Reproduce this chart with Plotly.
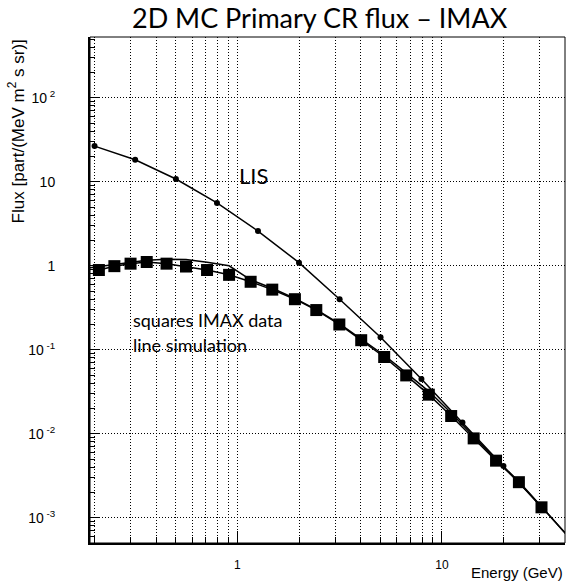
import plotly.graph_objects as go
import math

# ---- data ----
lis_energy = [0.2, 0.316, 0.5, 0.794, 1.26, 2.0, 3.16, 5.01, 7.94, 12.6, 20.0, 31.6, 50.1]
lis_flux = [26.6, 18.3, 10.8, 5.6, 2.59, 1.09, 0.40, 0.141, 0.0448, 0.0136, 0.00412, 0.00125, 0.00036]

imax_energy = [0.21, 0.25, 0.30, 0.36, 0.45, 0.56, 0.71, 0.91, 1.16, 1.48, 1.91, 2.43,
               3.15, 4.03, 5.22, 6.69, 8.63, 11.1, 14.3, 18.4, 23.8, 30.7]
imax_flux = [0.89, 0.99, 1.06, 1.11, 1.06, 0.98, 0.89, 0.78, 0.645, 0.52, 0.40, 0.297,
             0.20, 0.13, 0.082, 0.0495, 0.0292, 0.01625, 0.0088, 0.00478, 0.00265, 0.00133]

sim_energy = [0.19, 0.25, 0.30, 0.36, 0.45, 0.56, 0.71, 0.91, 1.16, 1.48, 1.91, 2.43,
              3.15, 4.03, 5.22, 6.69, 8.63, 11.1, 14.3, 18.4, 23.8, 30.7, 45.0]
sim_flux = [0.95, 1.03, 1.10, 1.16, 1.20, 1.19, 1.10, 1.00, 0.68, 0.54, 0.41, 0.30,
            0.205, 0.134, 0.086, 0.053, 0.032, 0.0177, 0.0093, 0.0049, 0.0027, 0.00135, 0.00048]

x_major = [1, 10]
x_major_text = ["1", "10"]
x_minor = [0.2, 0.3, 0.4, 0.5, 0.6, 0.7, 0.8, 0.9, 2, 3, 4, 5, 6, 7, 8, 9, 20, 30, 40]
y_major = [1e-3, 1e-2, 1e-1, 1, 10, 100]
y_major_text = ["10<sup> -3</sup>", "10<sup> -2</sup>", "10<sup> -1</sup>", "1", "10", "10<sup> 2</sup>"]
y_minor = [m * 10 ** e for e in range(-4, 3) for m in range(2, 10)]

title_text = "2D MC Primary CR flux – IMAX"

fig = go.Figure()
fig.add_trace(go.Scatter(x=sim_energy, y=sim_flux, mode="lines",
                         line=dict(color="black", width=1.5), showlegend=False))
fig.add_trace(go.Scatter(x=imax_energy, y=imax_flux, mode="lines+markers",
                         line=dict(color="black", width=1.5),
                         marker=dict(symbol="square", size=12, color="black"),
                         showlegend=False))
fig.add_trace(go.Scatter(x=lis_energy, y=lis_flux, mode="lines+markers",
                         line=dict(color="black", width=1.5),
                         marker=dict(symbol="circle", size=6, color="black"),
                         showlegend=False))

dash = "1px,2px"

fig.update_xaxes(type="log", range=[math.log10(0.19), math.log10(40)],
                 tickmode="array", tickvals=x_major, ticktext=x_major_text,
                 ticks="inside", ticklen=12, tickcolor="black", tickwidth=1,
                 showline=True, linecolor="black", linewidth=2, mirror=False,
                 zeroline=False, ticklabelstandoff=10,
                 showgrid=True, gridcolor="black", gridwidth=1, griddash=dash,
                 tickfont=dict(family="Liberation Sans", size=12, color="black"),
                 minor=dict(tickmode="array", tickvals=x_minor, ticks="inside", ticklen=6,
                            tickcolor="black", showgrid=True, gridcolor="black",
                            gridwidth=1, griddash=dash))
fig.update_yaxes(type="log", range=[math.log10(5e-4), math.log10(530)],
                 tickmode="array", tickvals=y_major, ticktext=y_major_text,
                 ticks="inside", ticklen=10, tickcolor="black", tickwidth=1,
                 showline=True, linecolor="black", linewidth=2, mirror=False,
                 zeroline=False, ticklabelstandoff=30,
                 showgrid=True, gridcolor="black", gridwidth=1, griddash=dash,
                 tickfont=dict(family="Liberation Sans", size=14, color="black"),
                 minor=dict(tickmode="array", tickvals=y_minor, ticks="inside", ticklen=5,
                            tickcolor="black", showgrid=False))

fig.add_shape(type="rect", xref="paper", yref="paper", x0=0, x1=1, y0=0, y1=1,
              line=dict(color="black", width=1), layer="above")

fig.add_annotation(text=title_text, xref="paper", yref="paper", x=0.485, y=1.0,
                   yshift=38, xanchor="center", yanchor="top", showarrow=False,
                   font=dict(family="Lato", size=27, color="black"))
fig.add_annotation(text="LIS", xref="x", yref="y", x=math.log10(0.99), y=1.07,
                   xanchor="left", yanchor="middle", showarrow=False,
                   font=dict(family="Lato", size=22, color="black"))
fig.add_annotation(text="squares IMAX data", xref="x", yref="y", x=math.log10(0.3), y=-0.64,
                   xanchor="left", yanchor="middle", showarrow=False,
                   font=dict(family="Lato", size=18, color="black"))
fig.add_annotation(text="line simulation", xref="x", yref="y", x=math.log10(0.3), y=-0.94,
                   xanchor="left", yanchor="middle", showarrow=False,
                   font=dict(family="Lato", size=18, color="black"))
fig.add_annotation(text="Flux [part/(MeV m<sup>2</sup> s sr)]", xref="paper", yref="paper",
                   x=-0.155, y=1.0, xanchor="center", yanchor="top", textangle=-90,
                   showarrow=False, font=dict(family="Liberation Sans", size=17, color="black"))
fig.add_annotation(text="Energy (GeV)", xref="paper", yref="paper", x=1.0, y=0,
                   yshift=-19, xanchor="right", yanchor="top", showarrow=False,
                   font=dict(family="Liberation Sans", size=15, color="black"))

fig.update_layout(width=578, height=586, margin=dict(l=90, r=13, t=37, b=43),
                  plot_bgcolor="white", paper_bgcolor="white")

fig.write_html("out.html")
